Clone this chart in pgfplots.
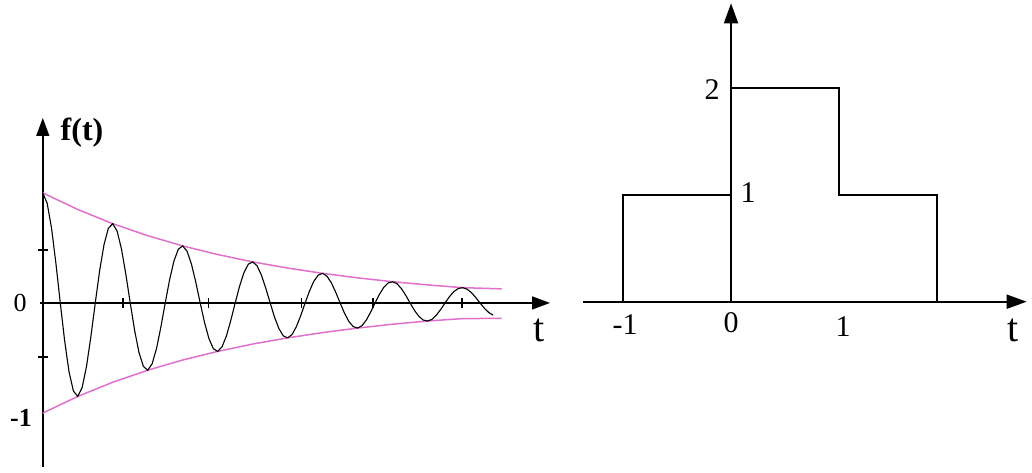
\documentclass[border=0pt]{standalone}
\usepackage{fontspec}
\setmainfont{Liberation Serif}
\usepackage{pgfplots}
\usepackage{pgfplotstable}
\pgfplotsset{compat=1.18}
\usetikzlibrary{arrows.meta}
\definecolor{env}{HTML}{E070CC}

% damped oscillation (x in periods)
\pgfplotstableread{
x y
0 1
0.0625 0.905
0.125 0.679
0.1875 0.360
0.25 0
0.3125 -0.345
0.375 -0.625
0.4375 -0.800
0.5 -0.849
0.5625 -0.768
0.625 -0.576
0.6875 -0.305
0.75 0
0.8125 0.293
0.875 0.530
0.9375 0.679
1 0.720
1.0625 0.652
1.125 0.489
1.1875 0.259
1.25 0
1.3125 -0.249
1.375 -0.450
1.4375 -0.576
1.5 -0.611
1.5625 -0.553
1.625 -0.415
1.6875 -0.220
1.75 0
1.8125 0.211
1.875 0.382
1.9375 0.489
2 0.518
2.0625 0.469
2.125 0.352
2.1875 0.187
2.25 0
2.3125 -0.179
2.375 -0.324
2.4375 -0.415
2.5 -0.440
2.5625 -0.398
2.625 -0.299
2.6875 -0.158
2.75 0
2.8125 0.152
2.875 0.275
2.9375 0.352
3 0.373
3.0625 0.338
3.125 0.253
3.1875 0.134
3.25 0
3.3125 -0.129
3.375 -0.233
3.4375 -0.299
3.5 -0.317
3.5625 -0.287
3.625 -0.215
3.6875 -0.114
3.75 0
3.8125 0.109
3.875 0.198
3.9375 0.253
4 0.269
4.0625 0.243
4.125 0.182
4.1875 0.097
4.25 0
4.3125 -0.093
4.375 -0.168
4.4375 -0.215
4.5 -0.228
4.5625 -0.206
4.625 -0.155
4.6875 -0.082
4.75 0
4.8125 0.079
4.875 0.143
4.9375 0.182
5 0.193
5.0625 0.175
5.125 0.131
5.1875 0.070
5.25 0
5.3125 -0.067
5.375 -0.121
5.4375 -0.155
5.5 -0.164
5.5625 -0.149
5.625 -0.111
5.6875 -0.059
5.75 0
5.8125 0.057
5.875 0.103
5.9375 0.131
6 0.139
6.0625 0.126
6.125 0.095
6.1875 0.050
6.25 0
6.3125 -0.048
6.375 -0.087
6.4375 -0.111
}\osc

% envelope
\pgfplotstableread{
x u l
0 1 -1
0.5 0.849 -0.849
1 0.720 -0.720
1.5 0.611 -0.611
2 0.518 -0.518
2.5 0.440 -0.440
3 0.373 -0.373
3.5 0.317 -0.317
4 0.269 -0.269
4.5 0.228 -0.228
5 0.193 -0.193
5.5 0.164 -0.164
6 0.139 -0.142
6.56 0.128 -0.140
}\envl

\begin{document}
\begin{tikzpicture}
\useasboundingbox (0,0) rectangle (516pt,236pt);

% left: damped oscillation
\begin{axis}[
  at={(20pt,2.5pt)}, anchor=south west,
  scale only axis, width=255pt, height=174.5pt,
  xmin=-0.04, xmax=7.25, ymin=-1.49, ymax=1.68,
  axis lines=middle,
  axis line style={line width=0.8pt, -{Triangle[length=9pt,width=6.5pt]}},
  xtick={1.15,2.37,3.70,4.72,5.99}, ytick={0.48,-0.49},
  xticklabels={}, yticklabels={},
  tick align=center, major tick length=5pt,
  tick style={line width=0.8pt, black},
  clip=false,
]
\addplot[env, line width=0.75pt] table[x=x, y=u] {\envl};
\addplot[env, line width=0.75pt] table[x=x, y=l] {\envl};
\addplot[black, line width=0.55pt] table[x=x, y=y] {\osc};
\end{axis}

% right: step function
\begin{axis}[
  at={(291.65pt,85.15pt)}, anchor=south west,
  scale only axis, width=221.7pt, height=149.2pt,
  xmin=-1.364, xmax=2.73, ymin=0, ymax=2.797,
  axis lines=middle,
  axis line style={line width=0.9pt, -{Triangle[length=10pt,width=7pt]}},
  xtick=\empty, ytick=\empty,
  clip=false,
]
\addplot[black, line width=0.9pt] coordinates {
  (-1,0) (-1,1) (0,1) (0,2) (1,2) (1,1) (1.9,1) (1.9,0)
};
\end{axis}

% labels
\begin{scope}[font=\fontsize{13}{15}\selectfont]
\node at (41pt,169.5pt) {\fontsize{16}{18}\selectfont\bfseries f(t)};
\node at (10pt,84.5pt) {0};
\node at (10.5pt,27pt) {\bfseries -1};
\node at (269.5pt,71pt) {\fontsize{20}{22}\selectfont t};
\end{scope}
\begin{scope}[font=\fontsize{15}{17}\selectfont]
\node at (356pt,191pt) {2};
\node at (374pt,139.5pt) {1};
\node at (312.5pt,73.5pt) {-1};
\node at (365.5pt,74.5pt) {0};
\node at (421.5pt,72.5pt) {1};
\node at (506.5pt,71pt) {\fontsize{20}{22}\selectfont t};
\end{scope}
\end{tikzpicture}
\end{document}
